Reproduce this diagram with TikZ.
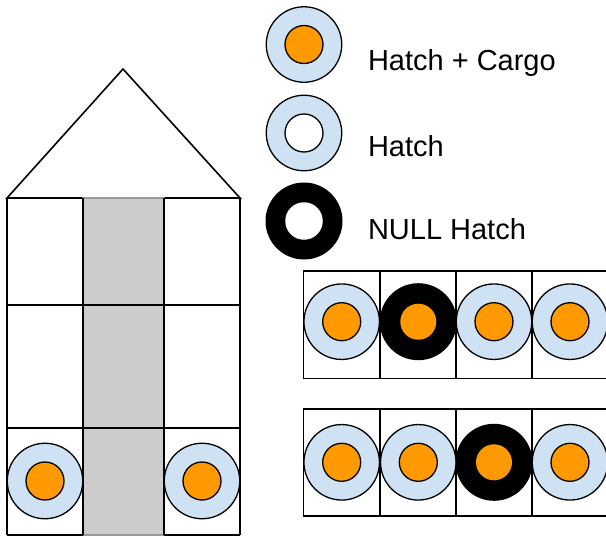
\documentclass[tikz,border=0pt]{standalone}
\usepackage{fontspec}
\setmainfont{Liberation Sans}
\definecolor{hblue}{HTML}{CFE2F3}
\definecolor{corange}{HTML}{FF9900}
\definecolor{colgray}{HTML}{CCCCCC}
\definecolor{edgegray}{HTML}{999999}
\begin{document}
\begin{tikzpicture}[x=1pt,y=-1pt,
  gridline/.style={draw=black,line width=1.6pt},
  hatchring/.style={circle,draw=black,fill=hblue,line width=1.3pt,minimum size=75.5pt,inner sep=0pt,outer sep=0pt},
  nullring/.style={circle,fill=black,minimum size=77pt,inner sep=0pt,outer sep=0pt},
  cargo/.style={circle,draw=black,fill=corange,line width=1.3pt,minimum size=38pt,inner sep=0pt,outer sep=0pt},
  cargonull/.style={circle,fill=corange,minimum size=36pt,inner sep=0pt,outer sep=0pt},
  hole/.style={circle,draw=black,fill=white,line width=1.3pt,minimum size=38pt,inner sep=0pt,outer sep=0pt},
  nullhole/.style={circle,fill=white,minimum size=37.5pt,inner sep=0pt,outer sep=0pt},
  legendtext/.style={anchor=base west,font=\fontsize{29}{34}\selectfont,inner sep=0pt,outer sep=0pt}]
\useasboundingbox (0,0) rectangle (606,536);
% house roof
\coordinate (apex) at (123,69);
\coordinate (roofL) at (7,198);
\coordinate (roofR) at (240,198);
\draw[gridline,line join=miter] (roofL) -- (apex) -- (roofR) -- cycle;
% gray column
\draw[fill=colgray,draw=edgegray,line width=1.2pt] (83,198) rectangle (164,535);
% house grid
\draw[gridline] (7,198) -- (7,535) (83,198) -- (83,535) (164,198) -- (164,535) (240,198) -- (240,535);
\draw[gridline] (7,305) -- (240,305) (7,428) -- (240,428);
\draw[gridline] (7,535) -- (83,535) (164,535) -- (240,535);
% house hatches
\node[hatchring] (hL) at (45,481) {};
\node[cargo] (cL) at (hL) {};
\node[hatchring] (hR) at (202,481) {};
\node[cargo] (cR) at (hR) {};
% legend
\node[hatchring] (lg1) at (304,44.5) {};
\node[cargo] (lg1c) at (lg1) {};
\node[legendtext] (t1) at (368,70) {Hatch + Cargo};
\node[hatchring] (lg2) at (304,133) {};
\node[hole] (lg2c) at (lg2) {};
\node[legendtext] (t2) at (368,156.5) {Hatch};
\node[nullring] (lg3) at (304,221) {};
\node[nullhole] (lg3c) at (lg3) {};
\node[legendtext] (t3) at (368,239.5) {NULL Hatch};
% row 1
\draw[gridline] (303.3,271) rectangle (608,378.3);
\draw[gridline] (380,271) -- (380,378.3) (456,271) -- (456,378.3) (532,271) -- (532,378.3);
\node[hatchring] (a1) at (341.7,321.7) {};
\node[cargo] (a1c) at (a1) {};
\node[nullring] (a2) at (418.3,321.7) {};
\node[cargonull] (a2c) at (a2) {};
\node[hatchring] (a3) at (494,321.7) {};
\node[cargo] (a3c) at (a3) {};
\node[hatchring] (a4) at (570,321.7) {};
\node[cargo] (a4c) at (a4) {};
% row 2
\draw[gridline] (303.3,409) rectangle (608,516);
\draw[gridline] (380,409) -- (380,516) (456,409) -- (456,516) (532,409) -- (532,516);
\node[hatchring] (b1) at (341.7,462.3) {};
\node[cargo] (b1c) at (b1) {};
\node[hatchring] (b2) at (418.3,462.3) {};
\node[cargo] (b2c) at (b2) {};
\node[nullring] (b3) at (494,462.3) {};
\node[cargonull] (b3c) at (b3) {};
\node[hatchring] (b4) at (570,462.3) {};
\node[cargo] (b4c) at (b4) {};
\end{tikzpicture}
\end{document}
